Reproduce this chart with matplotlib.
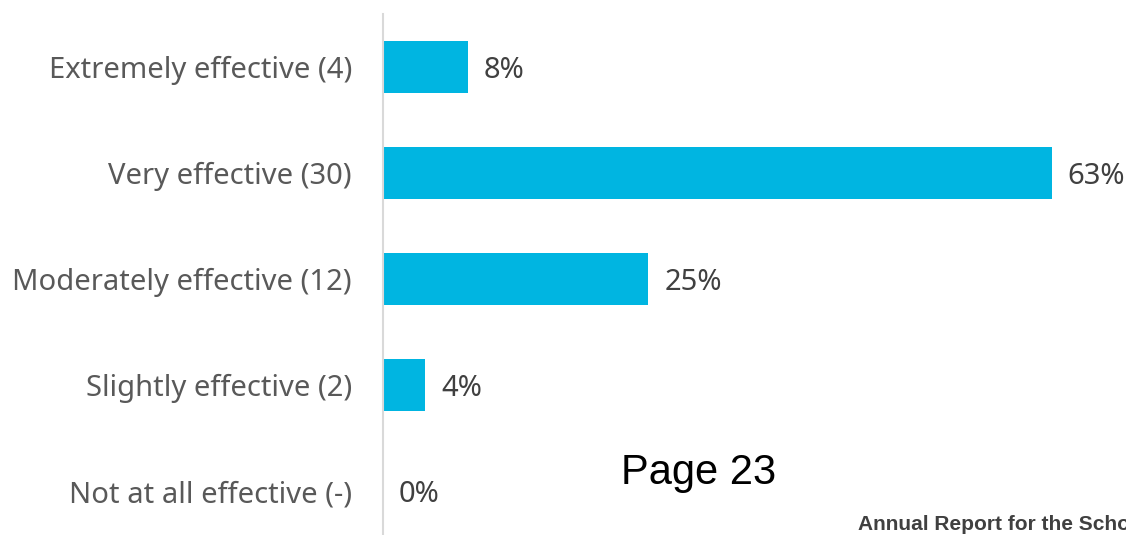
import matplotlib
matplotlib.use("Agg")
import matplotlib.pyplot as plt

categories = ["Extremely effective (4)", "Very effective (30)", "Moderately effective (12)",
              "Slightly effective (2)", "Not at all effective (-)"]
values = [8, 63, 25, 4, 0]
value_labels = ["8%", "63%", "25%", "4%", "0%"]

W, H = 1126, 535
fig = plt.figure(figsize=(W / 100, H / 100), dpi=100)
ax = fig.add_axes([383 / W, 0, 743 / W, 521 / H])

ypos = list(range(len(categories)))
ax.barh(ypos, values, height=0.49, color="#00B5E1")
ax.set_xlim(0, 70)
ax.set_ylim(4.415, -0.5)

ax.set_yticks(ypos)
ax.set_yticklabels(categories, fontsize=21, color="#595959", family="Noto Sans")
ax.tick_params(axis="y", length=0, pad=22.3)
ax.set_xticks([])
for s in ["top", "right", "bottom"]:
    ax.spines[s].set_visible(False)
ax.spines["left"].set_color("#D9D9D9")
ax.spines["left"].set_linewidth(1.5)

for y, v, lab in zip(ypos, values, value_labels):
    ax.annotate(lab, (v, y), xytext=(16, -3), textcoords="offset pixels",
                va="center", ha="left", fontsize=21, color="#404040", family="Noto Sans")

fig.text(621 / W, 1 - 473 / H, "Page 23", fontsize=30, family="Liberation Sans",
         color="black", va="center", ha="left")
fig.text(858 / W, 1 - 524 / H, "Annual Report for the School", fontsize=15,
         family="Liberation Sans", weight="bold", color="#404040", va="center", ha="left")

fig.savefig("out.png", dpi=100)
